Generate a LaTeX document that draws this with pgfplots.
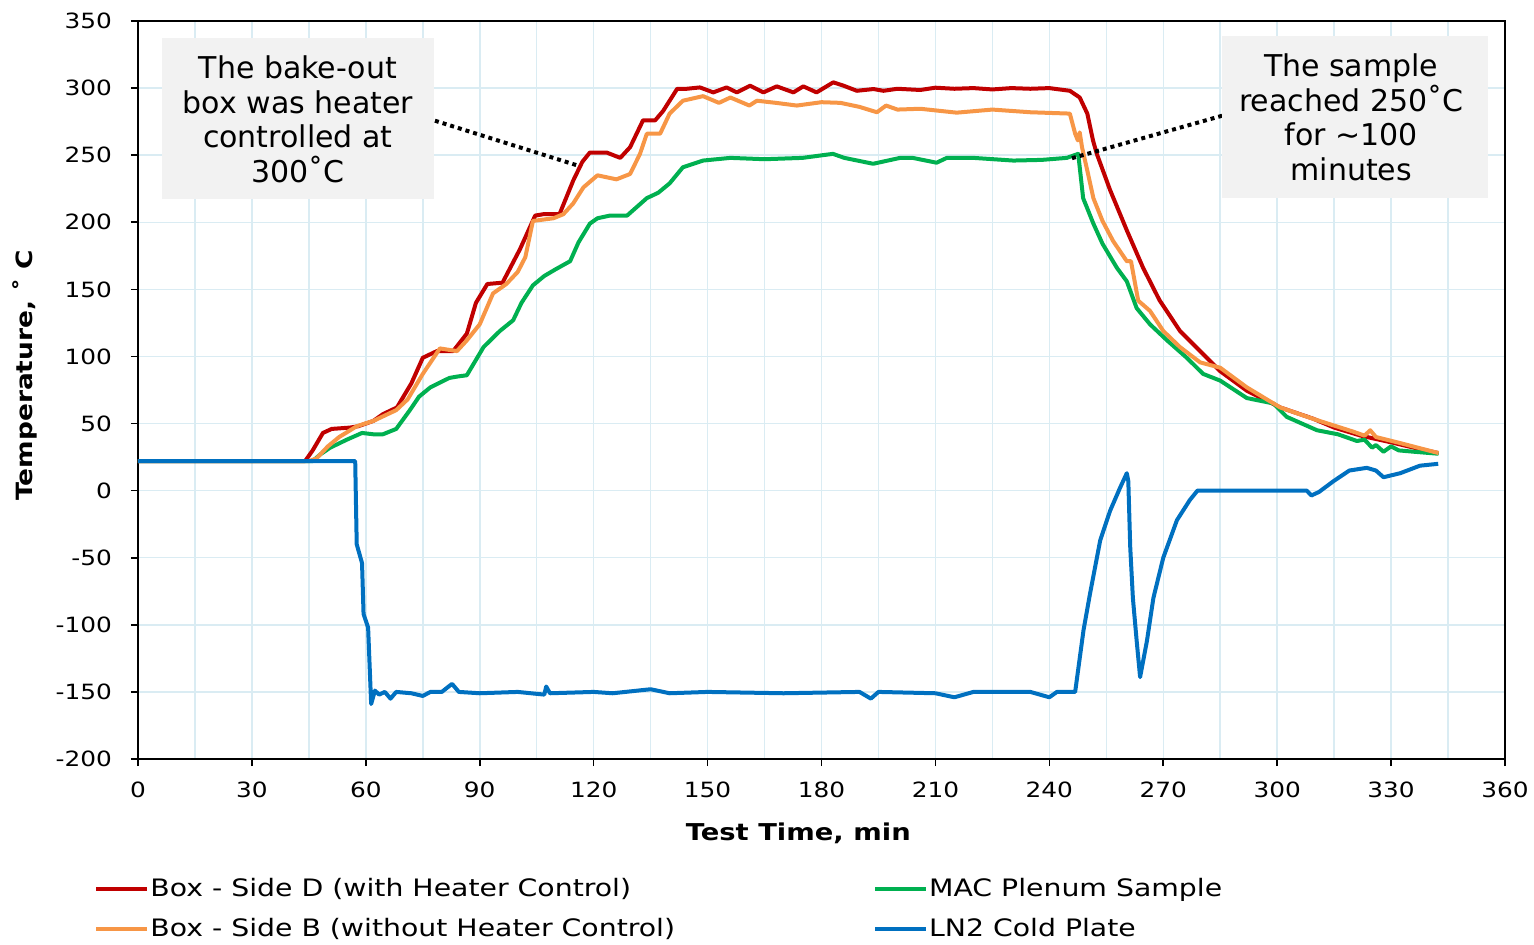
\documentclass[border=0pt]{standalone}
\usepackage{fontspec}
\setmainfont{DejaVu Sans}[FakeStretch=1.18]
\newfontfamily\annfont{DejaVu Sans}
\usepackage{pgfplots}
\pgfplotsset{compat=1.18}
\definecolor{cD}{HTML}{C00000}
\definecolor{cB}{HTML}{F79646}
\definecolor{cS}{HTML}{00B050}
\definecolor{cL}{HTML}{0070C0}
\definecolor{gridc}{RGB}{218,236,243}
\definecolor{boxc}{HTML}{F2F2F2}
\begin{document}
\begin{tikzpicture}
\path[use as bounding box] (-69pt,-92.5pt) rectangle (698pt,379.5pt);
\begin{axis}[
  scale only axis, width=683.5pt, height=369pt,
  xmin=0, xmax=360, ymin=-200, ymax=350,
  xtick={0,30,...,360}, ytick={-200,-150,...,350},
  minor x tick num=1,
  xmajorgrids, xminorgrids, ymajorgrids,
  major grid style={gridc, line width=0.75pt},
  minor grid style={gridc, line width=0.75pt},
  axis line style={black, line width=1pt},
  tick align=outside, major tick length=3.5pt, minor tick length=0pt,
  tick style={black, line width=0.8pt},
  xtick pos=bottom, ytick pos=left,
  /pgf/number format/assume math mode=true,
  ticklabel style={font=\fontsize{10.5}{12}\selectfont},
  xticklabel style={yshift=-4.5pt},
  yticklabel style={xshift=-6pt},
  xlabel={\textbf{Test Time, min}},
  ylabel={\textbf{Temperature, ˚ C}},
  xlabel style={font=\fontsize{11.6}{13}\selectfont, at={(axis description cs:0.483,0)}, anchor=center, yshift=-37pt},
  ylabel style={font=\fontsize{11.2}{13}\selectfont, at={(axis description cs:-0.0827,0.52)}, anchor=center},
  legend columns=2,
  legend style={draw=none, fill=none, at={(axis description cs:0,0)}, anchor=north west, xshift=-22pt, yshift=-59pt,
    font=\fontsize{12}{13}\selectfont, row sep=8.5pt, inner sep=0pt,
    nodes={inner sep=0.5pt}},
  legend cell align=left,
  /tikz/every even column/.append style={column sep=98.5pt},
  legend image code/.code={\draw[#1] (0pt,0pt) -- (25.5pt,0pt);},
  every axis plot/.append style={line width=2pt, line join=round, no markers},
  clip=false,
]
\addplot[cD] coordinates {
(0,22)(44,22)(46,30)(48.7,43)(51,46)(55.8,47)(58,48)(62,52)(64.5,57)(68.2,62)(72,80)(75,99)(78.7,104)(83,104)(86.6,117)(89,140)(92,154)(96,155)(100.6,180)(104.6,205)(106.7,206)(111,206)(114.6,231)(117,245)(119,252)(123.4,252)(127,248)(129.6,256)(133,276)(136.2,276)(138.3,283)(142,299.5)(144.5,299.5)(148,300.5)
(151.5,296.8)(155,300.5)(157.7,296.8)(161.2,301.8)(164.7,296.8)(168.2,301.3)(172.6,296.8)(175.2,301.3)(178.7,296.8)(183.1,304.3)(185.8,301.8)(189.3,298)(193.7,299.3)(196.3,298)(200,299.5)(206,298.6)(210,300.3)(215,299.5)(220,300)(225,299)(230,300)(235,299.5)(240,300)(245.4,298)(248,293)(250,281)(251.5,261)(252.5,251)(256,224)(260.4,194)(264.7,166)(269,142)(274.4,119)(279.7,104)(285,89)(292,74.5)(300.8,62)(309.5,53.6)(315,47)(322,41)(330,36)(336,32)(342.5,28)
};
\addlegendentry{Box - Side D (with Heater Control)}
\addplot[cS] coordinates {
(0,22)(46,22)(48,27)(50.6,32)(55,38)(59,43)(62,42)(64.5,42)(68,46)(71.6,60)(74,70)(77,77)(82,84)(84,85)(86.6,86)(91,107)(95.3,119)(98.8,127)(101,140)(104,153)(107,160)(110,165)(113.8,171)(116,185)(119,199)(121,203)(124.3,205)(128.8,205)(134,218)(137,222)(140,229)(143.5,241)(148.8,246)(156,248)(165,247)(175,248)(183,251)(186,248)(193.6,243.6)(200.7,248)(204,248)(210.3,244.4)(213,248)(220,248)(230.5,246)(238,246.5)(244.6,248)(247.6,251)(248,241)(248.9,218)(251.6,199)(254,184)(257.8,166)(260.4,156)(263,136)(266.5,124)(271,112)(276.2,99)(280.5,87)(285,82)(292,69)(299,65)(302.5,55)(310.5,45)(316,42)(321,37)(323,38)(325,32)(326,34)(328,29)(330,33)(332,30)(336,29)(342.5,27.5)
};
\addlegendentry{MAC Plenum Sample}
\addplot[cB] coordinates {
(0,22)(45,22)(47,24)(50,33)(53,40)(57.6,48)(62,52)(65,56)(68,60)(71,68)(75,87)(79.5,106)(84,104)(86.6,112)(90,124)(93.5,147)(97,154)(100,163)(102,174)(104,201)(109.4,203)(112,206)(114.6,214)(117.3,226)(121,235)(126,232)(129.6,236)(132.2,251)(134,266)(137.5,266)(140,281)(143.5,290.6)(148.8,294)(153,289)(156,293)(161,287)(163,290.6)(168,289)(173.5,287)(180,289.5)(185,289)(190,286)(194.6,282)(197,287)(200,284)(206,284.6)(215.6,281.7)(225,284)(235,282)(245.4,281)(246.8,266)(247.5,261)(248,267)(248.6,256)(250,238.5)(251.6,218)(254,201)(256.8,186)(260.4,171)(261.5,171)(263.4,141.6)(266.5,134)(270,119)(274.4,107)(279.7,95.6)(285,91.6)(292,77)(300.8,62)(310,53)(320,44)(323,41)(324.5,45)(326,40)(333,35)(342.5,28)
};
\addlegendentry{Box - Side B (without Heater Control)}
\addplot[cL] coordinates {
(0,22)(57.2,22)(57.6,-40)(59,-54)(59.4,-92)(60.6,-102)(61.4,-159)(62.4,-149)(63.5,-152)(65,-150)(66.5,-155)(68,-150)(72,-151)(75,-153)(77,-150)(80,-150)(82.7,-144)(84.5,-150)(90,-151)(100,-150)(107,-152)(107.5,-146)(108.5,-151)(120,-150)(125,-151)(135,-148)(140,-151)(150,-150)(170,-151)(190,-150)(193,-155)(195,-150)(210,-151)(215,-154)(220,-150)(235,-150)(240,-154)(242,-150)(246.8,-150)(249,-104)(250.7,-77)(253.4,-37)(256,-15)(258.6,2)(260.4,13)(260.8,7)(261.3,-42)(262,-80)(263,-112)(263.9,-139)(265.7,-112)(267.4,-80)(270,-50)(273.6,-22)(277,-7)(279,0)(307.8,0)(309,-3.6)(311,-1)(314.8,7)(319,15)(323.6,17)(326,15)(328,10)(332.4,13)(337.6,18.6)(342.4,20)
};
\addlegendentry{LN2 Cold Plate}
\draw[black, line width=2pt, dash pattern=on 2pt off 2pt] (axis cs:78.2,275.7) -- (axis cs:115.9,242.2);
\draw[black, line width=2pt, dash pattern=on 2pt off 2pt] (axis cs:285.5,279.4) -- (axis cs:245.5,247.4);
\node[fill=boxc, minimum width=136pt, minimum height=80.5pt, inner sep=0pt] at (axis cs:42.25,277.6) {};
\node[align=center, font=\annfont\fontsize{15}{17.25}\selectfont] at (axis cs:42.1,276.8) {The bake-out\\box was heater\\controlled at\\300˚C};
\node[fill=boxc, minimum width=133pt, minimum height=81pt, inner sep=0pt] at (axis cs:320.5,278.7) {};
\node[align=center, font=\annfont\fontsize{15}{17.25}\selectfont] at (axis cs:319.5,278.4) {The sample\\reached 250˚C\\for \textasciitilde100\\minutes};
\end{axis}
\end{tikzpicture}
\end{document}
